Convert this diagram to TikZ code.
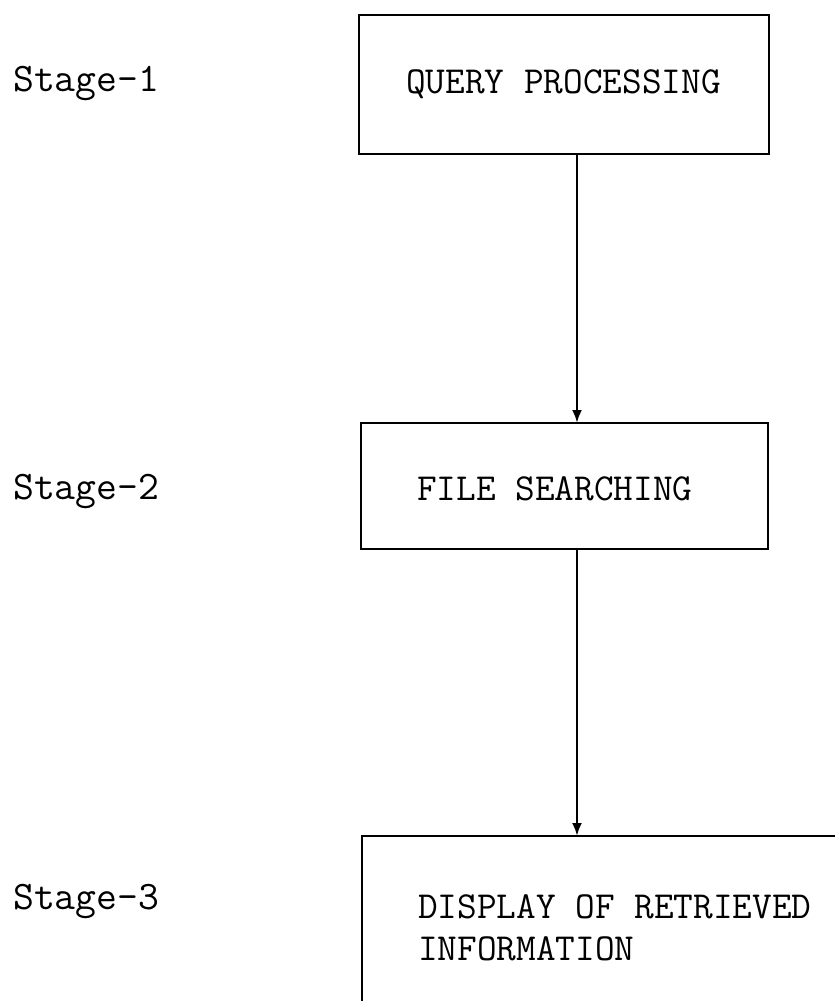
\documentclass[tikz,border=0pt]{standalone}
\usetikzlibrary{arrows.meta}
\begin{document}
\begin{tikzpicture}[x=1pt,y=1pt,
  boxstyle/.style={draw=black,line width=2.8pt,inner sep=0pt,outer sep=0pt},
  boxtext/.style={inner sep=0pt,anchor=base west,font=\ttfamily\fontsize{38.2}{44}\selectfont},
  stagetext/.style={inner sep=0pt,anchor=base west,font=\ttfamily\fontsize{40.5}{46}\selectfont},
  flow/.style={line width=2.5pt,-{Latex[length=13pt,width=10pt]}}]
\useasboundingbox (0,0) rectangle (835,-1001);
\begin{scope}
\clip (0,0) rectangle (835,-1001);
\node[boxstyle,minimum width=410pt,minimum height=139pt,anchor=north west] (b1) at (359,-15) {};
\node[boxstyle,minimum width=407pt,minimum height=126pt,anchor=north west] (b2) at (361,-423) {};
\node[boxstyle,minimum width=600pt,minimum height=300pt,anchor=north west] (b3) at (362,-836) {};
\end{scope}
\node[boxtext] (t1) at (406,-93) {QUERY PROCESSING};
\node[boxtext] (t2) at (417,-500) {FILE SEARCHING};
\node[boxtext] (t3a) at (418,-918) {DISPLAY OF RETRIEVED};
\node[boxtext] (t3b) at (418,-960) {INFORMATION};
\node[stagetext] (s1) at (13,-91) {Stage-1};
\node[stagetext] (s2) at (13,-499) {Stage-2};
\node[stagetext] (s3) at (13,-909) {Stage-3};
\coordinate (a1) at (577,-154);
\coordinate (a2) at (577,-549);
\draw[flow] (a1) -- (a1 |- b2.north);
\draw[flow] (a2) -- (a2 |- b3.north);
\end{tikzpicture}
\end{document}
